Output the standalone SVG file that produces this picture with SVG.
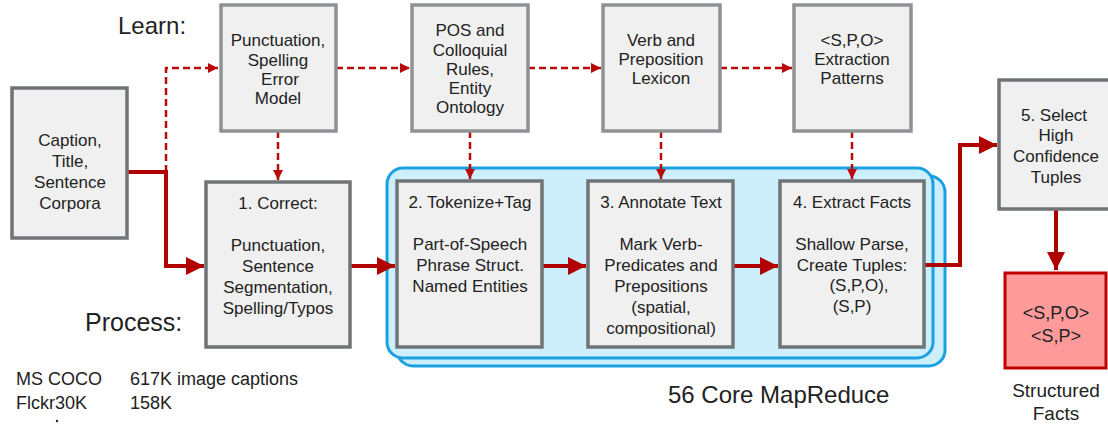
<svg xmlns="http://www.w3.org/2000/svg" width="1108" height="425" viewBox="0 0 1108 425">
<defs>
<style>
text{font-family:"Liberation Sans",Arial,sans-serif;fill:#222;}
.t{font-size:17px;text-anchor:middle;}
.big{font-size:24px;}
.box{fill:#f0f0f0;stroke:#6f7477;stroke-width:3.5;}
.tbox{fill:#f0f0f0;stroke:#8e9296;stroke-width:3.5;}
.dash{fill:none;stroke:#b80c0c;stroke-width:2.5;stroke-dasharray:7,4;}
.solid{fill:none;stroke:#b00000;stroke-width:4;}
.mr{fill:#cdeefb;stroke:#1ba1e2;stroke-width:3;}
</style>
<marker id="ad" viewBox="0 0 10 10" refX="10" refY="5" markerWidth="4.2" markerHeight="4.2" orient="auto" markerUnits="strokeWidth"><path d="M0,0L10,5L0,10z" fill="#b80c0c"/></marker>
<marker id="as" viewBox="0 0 10 10" refX="10" refY="5" markerWidth="4.5" markerHeight="4.5" orient="auto" markerUnits="strokeWidth"><path d="M0,0L10,5L0,10z" fill="#b00000"/></marker>
</defs>

<g id="labels">
<text class="big" x="118" y="34">Learn:</text>
<text class="big" x="85" y="331" style="font-size:25px">Process:</text>
<text x="668" y="403" style="font-size:24px">56 Core MapReduce</text>
<text x="16" y="385" style="font-size:18px">MS COCO</text>
<text x="130" y="385" style="font-size:18px">617K image captions</text>
<text x="16" y="409" style="font-size:18px">Flckr30K</text>
<text x="130" y="409" style="font-size:18px">158K</text>
<circle cx="57" cy="421" r="1.2" fill="#222"/>
</g>

<g id="mapreduce">
<rect class="mr" x="397" y="176" width="548" height="190" rx="16"/>
<rect class="mr" x="387" y="168" width="546" height="190" rx="16"/>
</g>

<g id="connectors">
<path class="dash" d="M166,172V68H218" marker-end="url(#ad)"/>
<path class="dash" d="M336,68H410" marker-end="url(#ad)"/>
<path class="dash" d="M528,68H601" marker-end="url(#ad)"/>
<path class="dash" d="M720,68H792" marker-end="url(#ad)"/>
<path class="dash" d="M278,131V180" marker-end="url(#ad)"/>
<path class="dash" d="M470,131V179" marker-end="url(#ad)"/>
<path class="dash" d="M661,131V179" marker-end="url(#ad)"/>
<path class="dash" d="M852,131V179" marker-end="url(#ad)"/>
<path class="solid" d="M127,172H166V266H204" marker-end="url(#as)"/>
<path class="solid" d="M350,266H395" marker-end="url(#as)"/>
<path class="solid" d="M542,266H586" marker-end="url(#as)"/>
<path class="solid" d="M733,266H778" marker-end="url(#as)"/>
<path class="solid" d="M924,265H960V145H997" marker-end="url(#as)"/>
<path class="solid" d="M1056,209V270" marker-end="url(#as)"/>
</g>

<g id="corpora">
<rect class="box" x="12" y="88" width="115" height="150"/>
<text class="t" x="70" y="146">Caption,</text>
<text class="t" x="70" y="167">Title,</text>
<text class="t" x="70" y="188">Sentence</text>
<text class="t" x="70" y="209">Corpora</text>
</g>

<g id="spelling-model">
<rect class="tbox" x="221" y="5" width="115" height="126"/>
<text class="t" x="278" y="46">Punctuation,</text>
<text class="t" x="278" y="66">Spelling</text>
<text class="t" x="280" y="85">Error</text>
<text class="t" x="278" y="104">Model</text>
</g>

<g id="pos-rules">
<rect class="tbox" x="412" y="5" width="116" height="126"/>
<text class="t" x="470" y="36">POS and</text>
<text class="t" x="470" y="56">Colloquial</text>
<text class="t" x="470" y="75">Rules,</text>
<text class="t" x="470" y="94">Entity</text>
<text class="t" x="470" y="113">Ontology</text>
</g>

<g id="lexicon">
<rect class="tbox" x="603" y="5" width="117" height="126"/>
<text class="t" x="661" y="46">Verb and</text>
<text class="t" x="661" y="65">Preposition</text>
<text class="t" x="661" y="84">Lexicon</text>
</g>

<g id="patterns">
<rect class="tbox" x="794" y="5" width="117" height="126"/>
<text class="t" x="852" y="46">&lt;S,P,O&gt;</text>
<text class="t" x="852" y="65">Extraction</text>
<text class="t" x="852" y="84">Patterns</text>
</g>

<g id="correct">
<rect class="box" x="206" y="182" width="144" height="165"/>
<text class="t" x="278" y="209">1. Correct:</text>
<text class="t" x="278" y="251">Punctuation,</text>
<text class="t" x="278" y="272">Sentence</text>
<text class="t" x="278" y="293">Segmentation,</text>
<text class="t" x="278" y="314">Spelling/Typos</text>
</g>

<g id="tokenize">
<rect class="box" x="397" y="181" width="145" height="166"/>
<text class="t" x="470" y="208">2. Tokenize+Tag</text>
<text class="t" x="470" y="250">Part-of-Speech</text>
<text class="t" x="470" y="271">Phrase Struct.</text>
<text class="t" x="470" y="292">Named Entities</text>
</g>

<g id="annotate">
<rect class="box" x="588" y="181" width="145" height="166"/>
<text class="t" x="661" y="208">3. Annotate Text</text>
<text class="t" x="661" y="250">Mark Verb-</text>
<text class="t" x="661" y="271">Predicates and</text>
<text class="t" x="661" y="292">Prepositions</text>
<text class="t" x="661" y="313">(spatial,</text>
<text class="t" x="661" y="334">compositional)</text>
</g>

<g id="extract">
<rect class="box" x="780" y="181" width="144" height="166"/>
<text class="t" x="852" y="208">4. Extract Facts</text>
<text class="t" x="852" y="250">Shallow Parse,</text>
<text class="t" x="852" y="271">Create Tuples:</text>
<text class="t" x="859" y="291">(S,P,O),</text>
<text class="t" x="852" y="312">(S,P)</text>
</g>

<g id="select">
<rect class="box" x="999" y="80" width="112" height="129"/>
<text class="t" x="1054" y="121">5. Select</text>
<text class="t" x="1056" y="141">High</text>
<text class="t" x="1056" y="162">Confidence</text>
<text class="t" x="1056" y="183">Tuples</text>
</g>

<g id="facts">
<rect x="1005" y="273" width="101" height="95" fill="#ff9a9a" stroke="#c00000" stroke-width="3"/>
<text class="t" x="1056" y="319" style="font-size:18px">&lt;S,P,O&gt;</text>
<text class="t" x="1056" y="342" style="font-size:18px">&lt;S,P&gt;</text>
<text class="t" x="1056" y="397" style="font-size:19px">Structured</text>
<text class="t" x="1056" y="420" style="font-size:19px">Facts</text>
</g>
</svg>
